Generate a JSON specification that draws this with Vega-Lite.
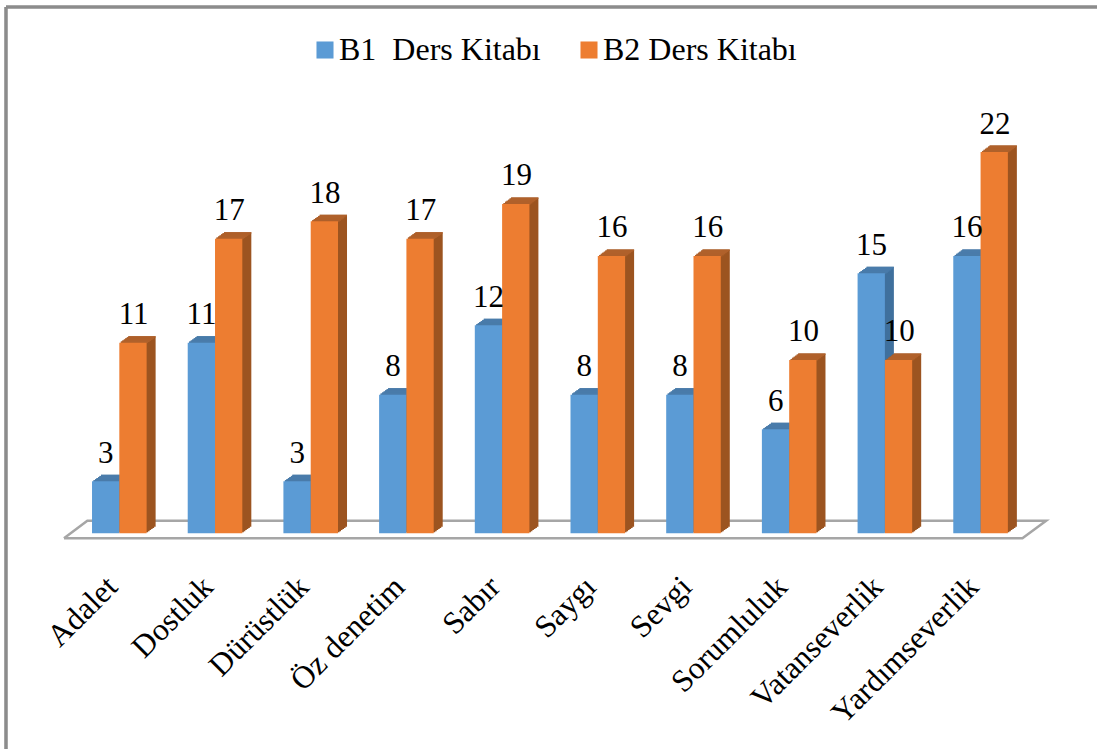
{
"$schema":"https://vega.github.io/schema/vega-lite/v6.json",
"width":1091,"height":742,
"autosize":{"type":"none"},
"padding":{"left":6,"top":7,"right":0,"bottom":0},
"background":"white",
"view":{"stroke":null},
"config":{"font":"Liberation Serif"},
"datasets":{
"bars":[
{"tema":"Adalet","seri":"B1\u00a0 Ders Kitabı","deger":3},{"tema":"Adalet","seri":"B2 Ders Kitabı","deger":11},
{"tema":"Dostluk","seri":"B1\u00a0 Ders Kitabı","deger":11},{"tema":"Dostluk","seri":"B2 Ders Kitabı","deger":17},
{"tema":"Dürüstlük","seri":"B1\u00a0 Ders Kitabı","deger":3},{"tema":"Dürüstlük","seri":"B2 Ders Kitabı","deger":18},
{"tema":"Öz denetim","seri":"B1\u00a0 Ders Kitabı","deger":8},{"tema":"Öz denetim","seri":"B2 Ders Kitabı","deger":17},
{"tema":"Sabır","seri":"B1\u00a0 Ders Kitabı","deger":12},{"tema":"Sabır","seri":"B2 Ders Kitabı","deger":19},
{"tema":"Saygı","seri":"B1\u00a0 Ders Kitabı","deger":8},{"tema":"Saygı","seri":"B2 Ders Kitabı","deger":16},
{"tema":"Sevgi","seri":"B1\u00a0 Ders Kitabı","deger":8},{"tema":"Sevgi","seri":"B2 Ders Kitabı","deger":16},
{"tema":"Sorumluluk","seri":"B1\u00a0 Ders Kitabı","deger":6},{"tema":"Sorumluluk","seri":"B2 Ders Kitabı","deger":10},
{"tema":"Vatanseverlik","seri":"B1\u00a0 Ders Kitabı","deger":15},{"tema":"Vatanseverlik","seri":"B2 Ders Kitabı","deger":10},
{"tema":"Yardımseverlik","seri":"B1\u00a0 Ders Kitabı","deger":16},{"tema":"Yardımseverlik","seri":"B2 Ders Kitabı","deger":22}
],
"floor":[
{"i":0,"px":-0.078,"py":-0.29},{"i":1,"px":9.937,"py":-0.29},{"i":2,"px":10.185,"py":0.727},{"i":3,"px":0.166,"py":0.727},{"i":4,"px":-0.078,"py":-0.29}
]},
"resolve":{"scale":{"x":"independent"}},
"layer":[
{"data":{"name":"floor"},
 "layer":[
 {"mark":{"type":"rule","color":"#8c8c8c","strokeWidth":2.5},"encoding":{"x":{"datum":-0.684,"type":"quantitative","axis":null,"scale":{"domain":[0,10],"range":[65.45,1022.45],"nice":false,"zero":false}}}},
 {"mark":{"type":"rule","color":"#8c8c8c","strokeWidth":2.5},"encoding":{"y":{"datum":30.37,"type":"quantitative","axis":null,"scale":{"domain":[0,22],"range":[526.3,145],"nice":false}}}},
 {"mark":{"type":"line","color":"#a6a6a6","strokeWidth":2.5,"strokeJoin":"miter"},
 "encoding":{
  "x":{"field":"px","type":"quantitative","axis":null,"scale":{"domain":[0,10],"range":[65.45,1022.45],"nice":false,"zero":false}},
  "y":{"field":"py","type":"quantitative","axis":null,"scale":{"domain":[0,22],"range":[526.3,145],"nice":false}},
  "order":{"field":"i","type":"ordinal"}}}
 ]},
{"data":{"name":"bars"},
 "encoding":{
  "x":{"field":"tema","type":"nominal","sort":null,"title":null,
   "scale":{"range":[65.45,1022.45],"paddingInner":0.4295,"paddingOuter":0.215,"round":false},
   "axis":{"orient":"bottom","offset":-167,"domain":false,"ticks":false,"labelAngle":-45,"labelAlign":"right","labelBaseline":"middle","labelFont":"Liberation Serif","labelFontSize":31.5,"labelColor":"black","labelPadding":0,"labelOffset":-6.5,"labelLimit":0,"labelOverlap":false,"grid":false}},
  "y":{"field":"deger","type":"quantitative","axis":null,"stack":null,"scale":{"domain":[0,22],"range":[526.3,145],"nice":false}}},
 "layer":[
 {"transform":[{"filter":"indexof(datum.seri,'B1')==0"}],
  "layer":[
  {"mark":{"type":"bar","width":27.3,"color":"#3f709d","xOffset":-12.15,"yOffset":-1.08,"y2Offset":-1.08},"encoding":{"y2":{"datum":0}}},
  {"mark":{"type":"bar","width":27.3,"color":"#3f709d","xOffset":-10.65,"yOffset":-2.17,"y2Offset":-2.17},"encoding":{"y2":{"datum":0}}},
  {"mark":{"type":"bar","width":27.3,"color":"#3f709d","xOffset":-9.15,"yOffset":-3.25,"y2Offset":-3.25},"encoding":{"y2":{"datum":0}}},
  {"mark":{"type":"bar","width":27.3,"color":"#3f709d","xOffset":-7.65,"yOffset":-4.33,"y2Offset":-4.33},"encoding":{"y2":{"datum":0}}},
  {"mark":{"type":"bar","width":27.3,"color":"#3f709d","xOffset":-6.15,"yOffset":-5.42,"y2Offset":-5.42},"encoding":{"y2":{"datum":0}}},
  {"mark":{"type":"bar","width":27.3,"color":"#3f709d","xOffset":-4.65,"yOffset":-6.5,"y2Offset":-6.5},"encoding":{"y2":{"datum":0}}},
  {"mark":{"type":"bar","width":27.3,"color":"#4a7cab","xOffset":-12.15,"yOffset":-1.08,"y2Offset":0.5},"encoding":{"y2":{"field":"deger"}}},
  {"mark":{"type":"bar","width":27.3,"color":"#4a7cab","xOffset":-10.65,"yOffset":-2.17,"y2Offset":-0.6},"encoding":{"y2":{"field":"deger"}}},
  {"mark":{"type":"bar","width":27.3,"color":"#4a7cab","xOffset":-9.15,"yOffset":-3.25,"y2Offset":-1.7},"encoding":{"y2":{"field":"deger"}}},
  {"mark":{"type":"bar","width":27.3,"color":"#4a7cab","xOffset":-7.65,"yOffset":-4.33,"y2Offset":-2.8},"encoding":{"y2":{"field":"deger"}}},
  {"mark":{"type":"bar","width":27.3,"color":"#4a7cab","xOffset":-6.15,"yOffset":-5.42,"y2Offset":-3.9},"encoding":{"y2":{"field":"deger"}}},
  {"mark":{"type":"bar","width":27.3,"color":"#4a7cab","xOffset":-4.65,"yOffset":-6.5,"y2Offset":-5},"encoding":{"y2":{"field":"deger"}}}
  ]},
 {"transform":[{"filter":"indexof(datum.seri,'B1')==0"}],
  "mark":{"type":"bar","width":27.3,"xOffset":-13.65},
  "encoding":{"y2":{"datum":0},"color":{"field":"seri","type":"nominal","sort":null,"title":null,
   "scale":{"domain":["B1\u00a0 Ders Kitabı","B2 Ders Kitabı"],"range":["#5b9bd5","#ed7d31"]},
   "legend":{"orient":"none","legendX":303,"legendY":27,"direction":"horizontal","columns":2,"columnPadding":32,"symbolType":"square","symbolSize":290,"symbolStrokeWidth":0,"labelFont":"Liberation Serif","labelFontSize":32,"labelColor":"black","labelLimit":0,"labelOffset":-2}}}},
 {"transform":[{"filter":"indexof(datum.seri,'B2')==0"}],
  "layer":[
  {"mark":{"type":"bar","width":27.3,"color":"#9c5420","xOffset":15.15,"yOffset":-1.08,"y2Offset":-1.08},"encoding":{"y2":{"datum":0}}},
  {"mark":{"type":"bar","width":27.3,"color":"#9c5420","xOffset":16.65,"yOffset":-2.17,"y2Offset":-2.17},"encoding":{"y2":{"datum":0}}},
  {"mark":{"type":"bar","width":27.3,"color":"#9c5420","xOffset":18.15,"yOffset":-3.25,"y2Offset":-3.25},"encoding":{"y2":{"datum":0}}},
  {"mark":{"type":"bar","width":27.3,"color":"#9c5420","xOffset":19.65,"yOffset":-4.33,"y2Offset":-4.33},"encoding":{"y2":{"datum":0}}},
  {"mark":{"type":"bar","width":27.3,"color":"#9c5420","xOffset":21.15,"yOffset":-5.42,"y2Offset":-5.42},"encoding":{"y2":{"datum":0}}},
  {"mark":{"type":"bar","width":27.3,"color":"#9c5420","xOffset":22.65,"yOffset":-6.5,"y2Offset":-6.5},"encoding":{"y2":{"datum":0}}},
  {"mark":{"type":"bar","width":27.3,"color":"#b0612b","xOffset":15.15,"yOffset":-1.08,"y2Offset":0.5},"encoding":{"y2":{"field":"deger"}}},
  {"mark":{"type":"bar","width":27.3,"color":"#b0612b","xOffset":16.65,"yOffset":-2.17,"y2Offset":-0.6},"encoding":{"y2":{"field":"deger"}}},
  {"mark":{"type":"bar","width":27.3,"color":"#b0612b","xOffset":18.15,"yOffset":-3.25,"y2Offset":-1.7},"encoding":{"y2":{"field":"deger"}}},
  {"mark":{"type":"bar","width":27.3,"color":"#b0612b","xOffset":19.65,"yOffset":-4.33,"y2Offset":-2.8},"encoding":{"y2":{"field":"deger"}}},
  {"mark":{"type":"bar","width":27.3,"color":"#b0612b","xOffset":21.15,"yOffset":-5.42,"y2Offset":-3.9},"encoding":{"y2":{"field":"deger"}}},
  {"mark":{"type":"bar","width":27.3,"color":"#b0612b","xOffset":22.65,"yOffset":-6.5,"y2Offset":-5},"encoding":{"y2":{"field":"deger"}}}
  ]},
 {"transform":[{"filter":"indexof(datum.seri,'B2')==0"}],
  "mark":{"type":"bar","width":27.3,"xOffset":13.65},
  "encoding":{"y2":{"datum":0},"color":{"field":"seri","type":"nominal","sort":null,"title":null,
   "scale":{"domain":["B1\u00a0 Ders Kitabı","B2 Ders Kitabı"],"range":["#5b9bd5","#ed7d31"]}}}},
 {"transform":[{"filter":"indexof(datum.seri,'B1')==0"}],
  "mark":{"type":"text","font":"Liberation Serif","fontSize":31,"color":"black","align":"center","baseline":"alphabetic","dy":-18.5,"xOffset":-13.5},"encoding":{"text":{"field":"deger","type":"quantitative"}}},
 {"transform":[{"filter":"indexof(datum.seri,'B2')==0"}],
  "mark":{"type":"text","font":"Liberation Serif","fontSize":31,"color":"black","align":"center","baseline":"alphabetic","dy":-18.5,"xOffset":14.3},"encoding":{"text":{"field":"deger","type":"quantitative"}}}
 ]}
]}
